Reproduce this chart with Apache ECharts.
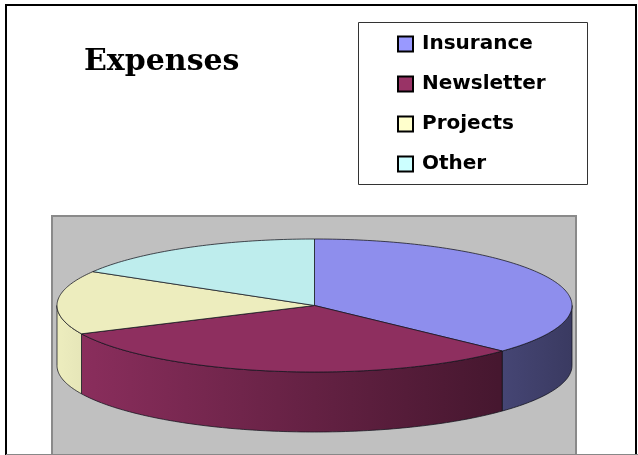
<!DOCTYPE html>
<html>
<head>
<meta charset="utf-8">
<script src="https://cdn.jsdelivr.net/npm/echarts@6/dist/echarts.min.js"></script>
<style>
html,body{margin:0;padding:0;background:#fff;}
#chart{width:638px;height:455px;}
</style>
</head>
<body>
<div id="chart"></div>
<script>
// ---- data ----
const categories = ['Insurance', 'Newsletter', 'Projects', 'Other'];
const values = [37, 31, 15.5, 16.5];
const colors = ['#9999ff', '#993366', '#ffffcc', '#ccffff'];
const titleText = 'Expenses';

// ---- layout of the tilted pie ----
const CX = 314.5, CY = 305.5, RX = 257.5, RY = 66.5, DEPTH = 60;

function shade(hex, f) {
  const n = parseInt(hex.slice(1), 16);
  const r = Math.round(((n >> 16) & 255) * f);
  const g = Math.round(((n >> 8) & 255) * f);
  const b = Math.round((n & 255) * f);
  return 'rgb(' + r + ',' + g + ',' + b + ')';
}
function pt(theta, dy) {
  return [CX + RX * Math.sin(theta), CY - RY * Math.cos(theta) + (dy || 0)];
}
function arc(a, b, dy) {
  const pts = [];
  const n = Math.max(2, Math.ceil(Math.abs(b - a) / (Math.PI / 180)));
  for (let i = 0; i <= n; i++) pts.push(pt(a + (b - a) * i / n, dy));
  return pts;
}

const total = values.reduce((s, v) => s + v, 0);

function makeRender(k) {
  return function (params, api) {
    const v = api.value(0);
    let before = 0;
    for (let i = 0; i < k; i++) before += values[i];
    const a0 = before / total * Math.PI * 2;
    const a1 = (before + v) / total * Math.PI * 2;
    const children = [];
    // visible side wall: front half (90deg..270deg)
    const s0 = Math.max(a0, Math.PI / 2), s1 = Math.min(a1, Math.PI * 1.5);
    if (s1 > s0) {
      const top = arc(s0, s1, 0);
      const bot = arc(s1, s0, DEPTH);
      children.push({
        type: 'polygon',
        z2: 1,
        shape: { points: top.concat(bot) },
        style: {
          fill: new echarts.graphic.LinearGradient(CX - RX, 0, CX + RX, 0, [
            { offset: 0, color: shade(colors[k], 0.93) },
            { offset: 1, color: shade(colors[k], 0.38) }
          ], true),
          stroke: 'rgba(20,20,30,0.75)',
          lineWidth: 1
        }
      });
    }
    // top face
    children.push({
      type: 'polygon',
      z2: 10,
      shape: { points: [[CX, CY]].concat(arc(a0, a1, 0)) },
      style: {
        fill: shade(colors[k], 0.93),
        stroke: 'rgba(20,20,30,0.75)',
        lineWidth: 1
      }
    });
    return { type: 'group', children: children };
  };
}

const series = categories.map((name, k) => ({
  type: 'custom',
  name: name,
  coordinateSystem: 'none',
  z: 3,
  itemStyle: { color: colors[k] },
  data: [values[k]],
  renderItem: makeRender(k),
  animation: false
}));

const chart = echarts.init(document.getElementById('chart'), null, { renderer: 'canvas' });
chart.setOption({
  animation: false,
  title: {
    text: titleText,
    left: 84,
    top: 47,
    padding: 0,
    textStyle: { fontFamily: 'DejaVu Serif', fontWeight: 'bold', fontSize: 30, color: '#000' }
  },
  legend: {
    data: categories,
    orient: 'vertical',
    left: 397,
    top: 33,
    padding: 0,
    itemWidth: 15,
    itemHeight: 15,
    itemGap: 18,
    icon: 'rect',
    selectedMode: false,
    itemStyle: { borderColor: '#000', borderWidth: 2 },
    textStyle: { fontFamily: 'DejaVu Sans', fontWeight: 'bold', fontSize: 20, lineHeight: 22, color: '#000', padding: [0, 0, 0, 4] }
  },
  graphic: [
    { type: 'rect', z: 0, shape: { x: 6, y: 5, width: 630, height: 470 }, style: { fill: '#fff', stroke: '#000', lineWidth: 2 } },
    { type: 'rect', z: 1, shape: { x: 52, y: 216, width: 524, height: 250 }, style: { fill: '#c0c0c0', stroke: '#8a8a8a', lineWidth: 2 } },
    { type: 'rect', z: 1, shape: { x: 358.5, y: 22.5, width: 229, height: 162 }, style: { fill: '#fff', stroke: '#333', lineWidth: 1 } },
    { type: 'line', z: 2, shape: { x1: 6, y1: 454.5, x2: 638, y2: 454.5 }, style: { stroke: '#888', lineWidth: 1 } }
  ],
  series: series
});
</script>
</body>
</html>
